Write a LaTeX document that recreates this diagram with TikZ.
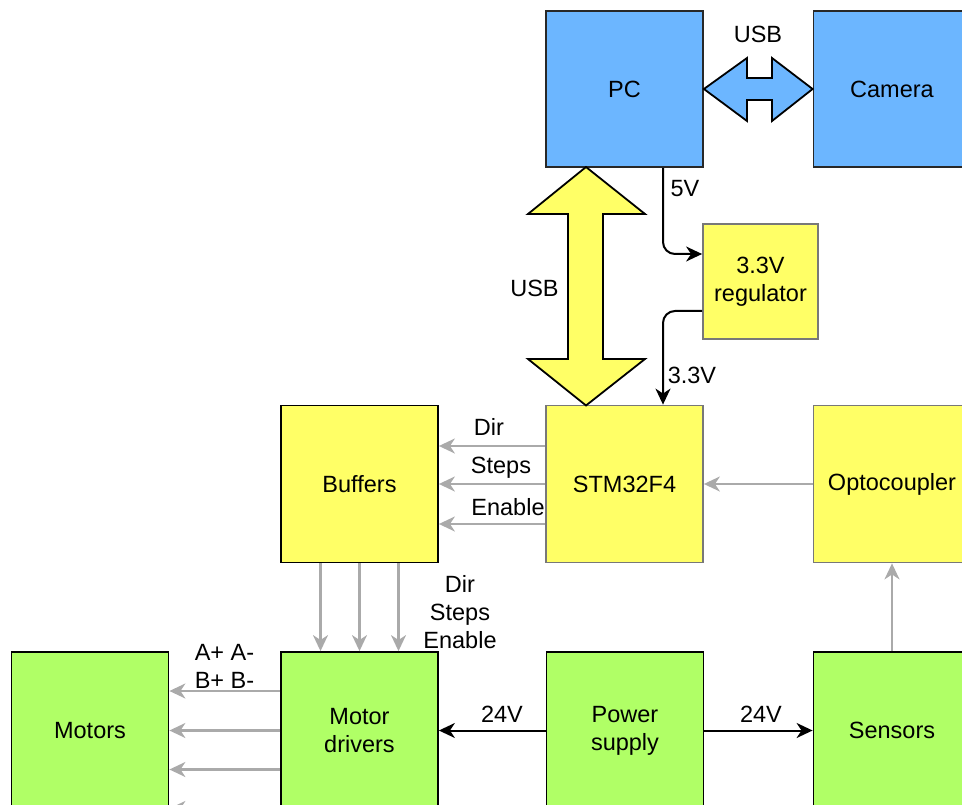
\documentclass[tikz,border=0pt]{standalone}
\usepackage{fontspec}
\setmainfont{Liberation Sans}
\usetikzlibrary{arrows.meta}
\definecolor{boxblue}{RGB}{108,182,255}
\definecolor{boxyellow}{RGB}{255,255,102}
\definecolor{boxgreen}{RGB}{176,255,102}
\definecolor{sig}{RGB}{170,170,170}
\definecolor{edgedark}{RGB}{40,40,40}
\definecolor{edgegray}{RGB}{120,120,120}
\begin{document}
\begin{tikzpicture}[x=1pt,y=-1pt,
  every node/.style={font=\fontsize{23.5}{28}\selectfont},
  blk/.style={draw=edgedark, line width=1.8pt, minimum width=157pt, minimum height=157pt, inner sep=0pt, align=center},
  blue/.style={blk, fill=boxblue},
  yel/.style={blk, fill=boxyellow, draw=edgegray},
  yelk/.style={blk, fill=boxyellow, draw=black},
  grn/.style={blk, fill=boxgreen, draw=black},
  lbl/.style={anchor=base, inner sep=0pt},
  tipstyle/.style={-{Stealth[length=16pt,width=15pt,inset=5pt]}},
  pwr/.style={draw=black, line width=2pt, tipstyle},
  sigarr/.style={draw=sig, line width=2.2pt, tipstyle},
  bigarrow/.style={draw=black, line width=1.8pt, line join=miter}
]
\useasboundingbox (0,0) rectangle (962,805);

% boxes
\node[blue, minimum height=156pt] (pc) at (624.5,89) {PC};
\node[blue, minimum height=156pt] (cam) at (892,89) {Camera};
\node[yel, minimum width=115pt, minimum height=115pt] (reg) at (760.5,281.5) {3.3V\\regulator};
\node[yel] (stm) at (624.5,484) {STM32F4};
\node[yelk] (buf) at (359.5,484) {Buffers};
\node[yel] (opt) at (892,484) {Optocoupler};
\node[grn] (mot) at (90,730.5) {Motors};
\node[grn] (drv) at (359.5,730.5) {Motor\\drivers};
\node[grn] (psu) at (625,730.5) {Power\\supply};
\node[grn] (sen) at (892,730.5) {Sensors};

% USB double arrows
\draw[bigarrow, fill=boxblue] (pc.east) -- (747,58) -- (747,78) -- (772,78) -- (772,58) -- (cam.west)
  -- (772,121) -- (772,100) -- (747,100) -- (747,121) -- cycle;
\draw[bigarrow, fill=boxyellow] (586,167) -- (645,214) -- (603,214) -- (603,359) -- (645,359) -- (586,405.5)
  -- (528,359) -- (568,359) -- (568,214) -- (528,214) -- cycle;

% power lines
\draw[pwr, rounded corners=12pt] ([xshift=38.5pt]pc.south) |- ([yshift=27.5pt]reg.west);
\draw[pwr, rounded corners=12pt] ([yshift=-29.5pt]reg.west) -| ([xshift=38.5pt]stm.north);
\draw[pwr] (psu.west) -- (drv.east);
\draw[pwr] (psu.east) -- (sen.west);

% signals
\draw[sigarr] ([yshift=38pt]stm.west) -- ([yshift=38pt]buf.east);
\draw[sigarr] (stm.west) -- (buf.east);
\draw[sigarr] ([yshift=-40pt]stm.west) -- ([yshift=-40pt]buf.east);
\draw[sigarr] (opt.west) -- (stm.east);
\draw[sigarr] (sen.north) -- (opt.south);
\foreach \dx in {-39,0,39}
  \draw[sigarr] ([xshift=\dx pt]buf.south) -- ([xshift=\dx pt]drv.north);
\foreach \dy in {39.5,0,-39,-78}
  \draw[sigarr] ([yshift=\dy pt]drv.west) -- ([yshift=\dy pt]mot.east);

% labels
\node[lbl] at (758,43) {USB};
\node[lbl] at (534.5,297) {USB};
\node[lbl] at (685,197) {5V};
\node[lbl] at (692,383) {3.3V};
\node[lbl] at (489,435) {Dir};
\node[lbl] at (501,473) {Steps};
\node[lbl] at (508,515) {Enable};
\node[lbl] at (460,592) {Dir};
\node[lbl] at (460,620) {Steps};
\node[lbl] at (460,648) {Enable};
\node[lbl] at (224.5,660) {A+ A-};
\node[lbl] at (224.5,688) {B+ B-};
\node[lbl] at (502,722) {24V};
\node[lbl] at (761,722) {24V};
\end{tikzpicture}
\end{document}
